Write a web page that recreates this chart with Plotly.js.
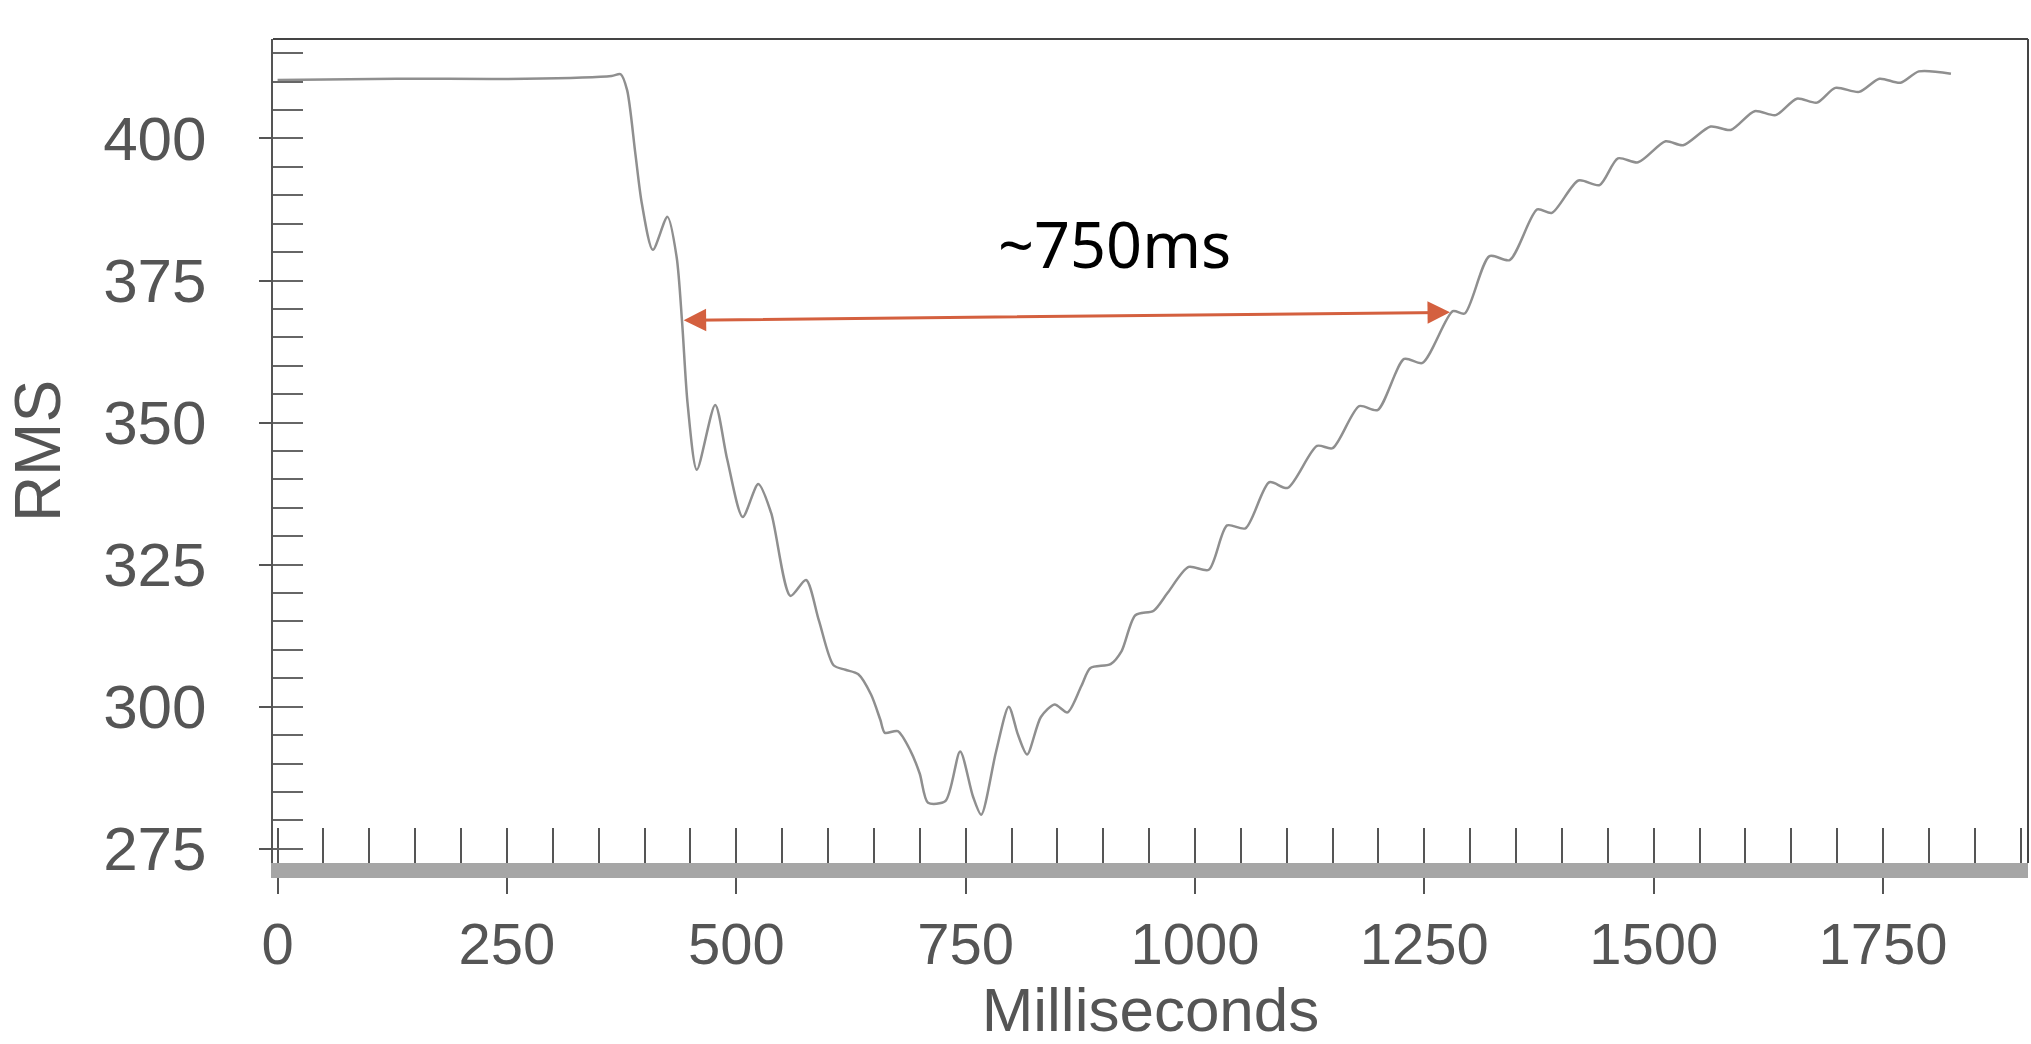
<!DOCTYPE html>
<html>
<head>
<meta charset="utf-8">
<script src="https://cdn.plot.ly/plotly-3.0.1.min.js"></script>
<style>html,body{margin:0;padding:0;background:#fff;}#chart{width:2031px;height:1044px;}</style>
</head>
<body>
<div id="chart"></div>
<script>
// Values
const ms = [0, 130, 270, 364, 374, 381, 390, 397, 409, 425, 435, 441, 447, 457, 477, 490, 507, 524, 538, 559, 576, 590, 606, 619, 633, 647, 657, 662, 676, 690, 700, 709, 728, 744, 758, 767, 783, 797, 807, 817, 832, 847, 861, 876, 886, 908, 920, 935, 955, 970, 993, 1015, 1035, 1055, 1081, 1101, 1133, 1150, 1179, 1199, 1228, 1248, 1281, 1294, 1321, 1343, 1373, 1389, 1418, 1441, 1461, 1483, 1513, 1532, 1562, 1584, 1610, 1633, 1656, 1678, 1698, 1724, 1746, 1769, 1789, 1824];
const rms = [410.3, 410.5, 410.5, 411.0, 411.3, 408.5, 397.3, 388.6, 380.4, 386.2, 379.1, 367.5, 353.2, 341.7, 353.1, 343.6, 333.4, 339.2, 334.1, 319.5, 322.3, 315.2, 307.3, 306.5, 305.7, 302.1, 297.7, 295.4, 295.7, 292.2, 288.2, 283.1, 283.4, 292.1, 284.2, 281.0, 292.0, 300.0, 295.1, 291.6, 298.2, 300.4, 299.0, 303.6, 306.8, 307.5, 309.8, 316.1, 316.9, 320.0, 324.6, 324.1, 331.9, 331.4, 339.5, 338.5, 345.9, 345.5, 352.9, 352.2, 361.2, 360.5, 369.6, 369.2, 379.3, 378.6, 387.5, 386.9, 392.6, 391.8, 396.5, 395.8, 399.5, 398.8, 402.1, 401.5, 404.8, 404.1, 407.0, 406.3, 408.9, 408.2, 410.5, 409.8, 411.8, 411.4];
const xTickVals = [0, 250, 500, 750, 1000, 1250, 1500, 1750];
const xTickText = ['0', '250', '500', '750', '1000', '1250', '1500', '1750'];
const yTickVals = [275, 300, 325, 350, 375, 400];
const yTickText = ['275', '300', '325', '350', '375', '400'];
const arrowMs = [441, 1278];
const arrowRms = [368.0, 369.4];
const labelText = '~750ms';
const labelMs = 912;
const labelRms = 381.5;

const xRange = [-5, 1908];
const yRange = [272.5, 417.5];
const font = 'Liberation Sans, Arial, sans-serif';

const trace = {
  x: ms, y: rms, type: 'scatter', mode: 'lines',
  line: {color: '#8f8f8f', width: 2.5, shape: 'spline', smoothing: 0.75},
  hoverinfo: 'skip', showlegend: false
};
// Same series on the overlay axes (invisible) so the fine inside tick rulers get drawn
const rulerTrace = {
  x: ms, y: rms, xaxis: 'x2', yaxis: 'y2', type: 'scatter', mode: 'lines',
  line: {color: 'rgba(0,0,0,0)', width: 0}, hoverinfo: 'skip', showlegend: false
};

const layout = {
  width: 2031, height: 1044,
  margin: {l: 273, r: 3, t: 39, b: 181},
  paper_bgcolor: '#ffffff', plot_bgcolor: '#ffffff',
  showlegend: false,
  xaxis: {
    range: xRange, showgrid: false, zeroline: false,
    showline: true, linecolor: '#a6a6a6', linewidth: 15,
    ticks: 'outside', ticklen: 16, tickwidth: 2, tickcolor: '#555',
    tickvals: xTickVals, ticktext: xTickText,
    tickfont: {family: font, size: 58, color: '#555'},
    ticklabelstandoff: 0,
    title: {text: 'Milliseconds', font: {family: font, size: 62, color: '#555'}}
  },
  xaxis2: {
    range: xRange, overlaying: 'x', side: 'bottom', showgrid: false, zeroline: false,
    showline: false, ticks: 'inside', dtick: 50, tick0: 0, ticklen: 35, tickwidth: 2,
    tickcolor: '#555', showticklabels: false
  },
  yaxis: {
    range: yRange, showgrid: false, zeroline: false,
    showline: true, linecolor: '#555', linewidth: 2,
    ticks: 'outside', ticklen: 12, tickwidth: 2, tickcolor: '#555',
    tickvals: yTickVals, ticktext: yTickText,
    tickfont: {family: font, size: 62, color: '#555'},
    ticklabelstandoff: 40,
    title: {text: 'RMS', font: {family: font, size: 64, color: '#555'}, standoff: 22}
  },
  yaxis2: {
    range: yRange, overlaying: 'y', side: 'left', showgrid: false, zeroline: false,
    showline: false, ticks: 'inside', dtick: 5, tick0: 275, ticklen: 30, tickwidth: 2,
    tickcolor: '#666', showticklabels: false
  },
  shapes: [
    {type: 'line', xref: 'paper', yref: 'paper', x0: 0, x1: 1, y0: 1, y1: 1, line: {color: '#444', width: 2}},
    {type: 'line', xref: 'paper', yref: 'paper', x0: 1, x1: 1, y0: 0, y1: 1, line: {color: '#444', width: 2}}
  ],
  annotations: [
    {x: arrowMs[1], y: arrowRms[1], ax: arrowMs[0], ay: arrowRms[0], xref: 'x', yref: 'y', axref: 'x', ayref: 'y',
     text: '', showarrow: true, arrowside: 'end+start', arrowhead: 2, arrowsize: 1.5, arrowwidth: 3, arrowcolor: '#d4603f'},
    {x: labelMs, y: labelRms, xref: 'x', yref: 'y', text: labelText, showarrow: false,
     font: {family: 'Noto Sans, sans-serif', size: 63, color: '#000'}}
  ]
};

Plotly.newPlot('chart', [trace, rulerTrace], layout, {staticPlot: true, displayModeBar: false});
</script>
</body>
</html>
